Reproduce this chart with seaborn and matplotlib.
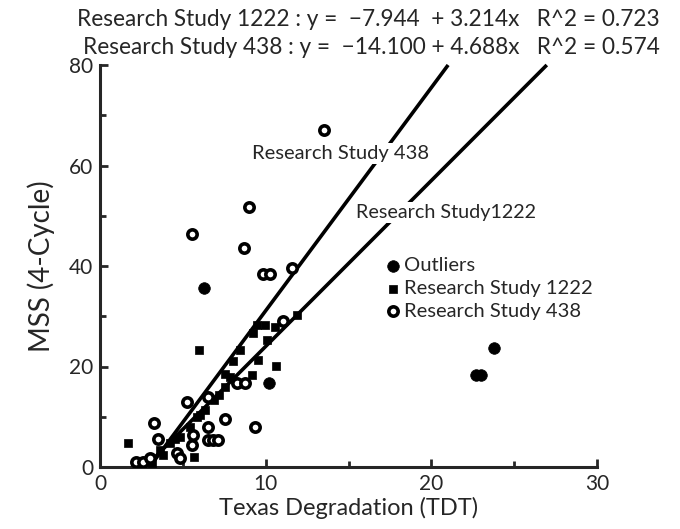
import numpy as np
import pandas as pd
import matplotlib
matplotlib.use("Agg")
import matplotlib.pyplot as plt
import seaborn as sns

# ---- data -------------------------------------------------------------
outlier_x = [6.29, 10.2, 23.8, 22.7, 23.0]
outlier_y = [35.6, 16.7, 23.7, 18.3, 18.3]

s1222_x = [5.96, 10.6, 11.9, 9.5, 9.96, 10.56, 9.25, 8.45, 8.05, 7.54, 10.06,
           9.55, 9.2, 7.85, 7.54, 6.03, 1.71, 5.67, 3.12, 4.22, 4.83, 5.43,
           5.83, 6.34, 3.62, 3.82, 6.9, 7.2, 4.5]
s1222_y = [23.3, 20.1, 30.2, 28.3, 28.3, 27.9, 26.6, 23.3, 21.0, 18.6, 25.3,
           21.3, 18.3, 18.0, 16.0, 10.3, 4.7, 2.0, 0.7, 4.7, 6.0, 8.0,
           10.0, 11.3, 3.4, 2.4, 13.3, 14.3, 5.5]

s438_x = [13.5, 9.0, 5.53, 8.71, 9.86, 10.26, 11.6, 11.06, 5.23, 6.54, 8.25,
          8.75, 7.54, 9.35, 3.26, 3.52, 6.54, 6.5, 6.8, 7.1, 5.53, 5.63, 4.63,
          4.83, 2.2, 2.6, 3.0]
s438_y = [67.1, 51.7, 46.3, 43.6, 38.5, 38.5, 39.7, 29.1, 13.0, 14.0, 16.7,
          16.7, 9.5, 8.0, 8.7, 5.6, 8.0, 5.4, 5.4, 5.4, 4.4, 6.4, 2.7,
          1.8, 1.05, 1.05, 1.8]

# fitted lines as drawn in the chart
line_names = ["Research Study 1222", "Research Study 438"]
line_intercepts = [-9.0, -13.3]
line_slopes = [3.3, 4.44]

title_lines = [
    "Research Study 1222 : y =  \u22127.944  + 3.214x   R^2 = 0.723",
    "Research Study 438 : y =  \u221214.100 + 4.688x   R^2 = 0.574",
]
line_labels = ["Research Study 438", "Research Study1222"]
x_ticks = [0, 10, 20, 30]
y_ticks = [0, 20, 40, 60, 80]

# ---- figure ---------------------------------------------------------------
sns.set_style("ticks")
plt.rcParams["font.family"] = ["Lato", "DejaVu Sans"]

fig = plt.figure(figsize=(6.8, 5.29), dpi=100)
ax = fig.add_axes([100 / 680, 62 / 529, 497 / 680, 402 / 529])

df_out = pd.DataFrame({"x": outlier_x, "y": outlier_y})
df_1222 = pd.DataFrame({"x": s1222_x, "y": s1222_y})
df_438 = pd.DataFrame({"x": s438_x, "y": s438_y})

sns.scatterplot(data=df_out, x="x", y="y", ax=ax, marker="o", s=70,
                color="black", edgecolor="black", linewidth=0.5,
                label="Outliers", zorder=4)
sns.scatterplot(data=df_1222, x="x", y="y", ax=ax, marker="s", s=30,
                color="black", edgecolor="black", linewidth=0.5,
                label="Research Study 1222", zorder=4)
sns.scatterplot(data=df_438, x="x", y="y", ax=ax, marker="o", s=45,
                facecolor="white", edgecolor="black", linewidth=2.6,
                label="Research Study 438", zorder=4)

ymax = 80
for a, b in zip(line_intercepts, line_slopes):
    xs = np.array([-a / b, (ymax - a) / b])
    ax.plot(xs, a + b * xs, color="black", lw=2.6, zorder=2,
            solid_capstyle="butt", clip_on=False)

ax.set_xlim(0, 30)
ax.set_ylim(0, 80)
ax.set_xticks(x_ticks)
ax.set_yticks(y_ticks)
ax.set_xticks([5, 15, 25], minor=True)
ax.set_yticks([10, 30, 50, 70], minor=True)
ax.tick_params(axis="both", which="major", direction="in", length=6,
               width=2, labelsize=15, pad=5)
ax.tick_params(axis="both", which="minor", direction="in", length=4,
               width=2)
for sp in ["left", "bottom"]:
    ax.spines[sp].set_linewidth(2.2)
sns.despine(ax=ax)

ax.set_xlabel("Texas Degradation (TDT)", fontsize=17, labelpad=2)
ax.set_ylabel("MSS (4-Cycle)", fontsize=20, labelpad=10)

box = dict(facecolor="white", edgecolor="none", pad=1.5)
ax.text(14.5, 62.3, line_labels[0], fontsize=14.5, ha="center",
        va="center", bbox=box, zorder=3)
ax.text(20.9, 50.6, line_labels[1], fontsize=14.2, ha="center",
        va="center", bbox=box, zorder=3)

leg = ax.legend(loc="upper left", bbox_to_anchor=(0.553, 0.542),
                frameon=False, fontsize=14.5, handletextpad=0.05,
                handlelength=1.0, labelspacing=0.28, borderaxespad=0)

fig.text(660 / 680, 1 - 20 / 529, title_lines[0], fontsize=16.3,
         ha="right", va="center")
fig.text(660 / 680, 1 - 48 / 529, title_lines[1], fontsize=16.3,
         ha="right", va="center")

fig.savefig("out.png", dpi=100)
